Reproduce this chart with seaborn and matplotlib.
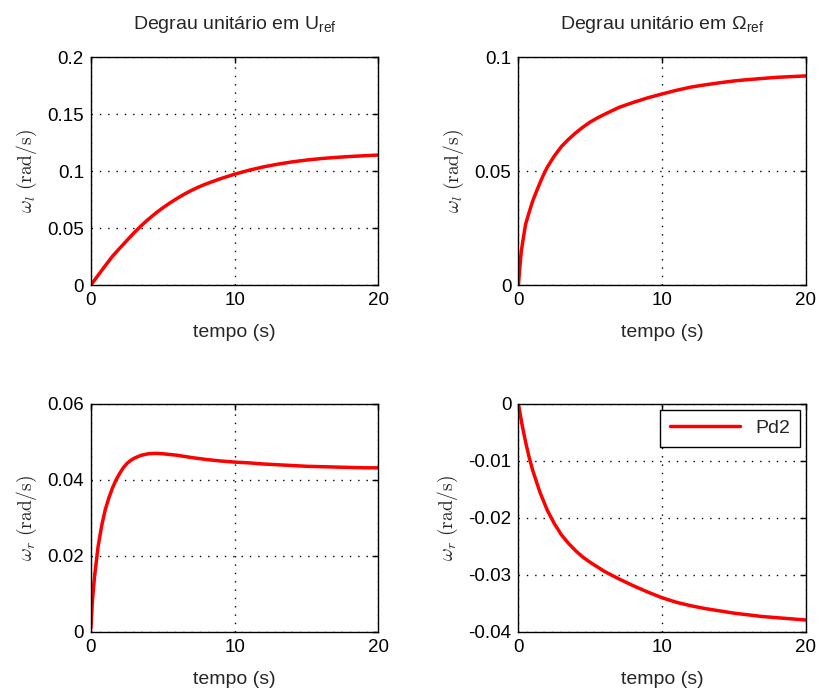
import numpy as np
import pandas as pd
import matplotlib
matplotlib.use('Agg')
import matplotlib.pyplot as plt
from matplotlib.ticker import FuncFormatter, MultipleLocator
import seaborn as sns

# Values
t_ul = [0, 0.5, 1, 1.5, 2, 2.5, 3, 3.5, 4, 4.5, 5, 5.5, 6, 6.5, 7, 7.5, 8, 9,
        10, 11, 12, 13, 14, 15, 16, 17, 18, 19, 20]
wl_ul = [0, 0.0085, 0.0170, 0.0252, 0.0322, 0.0390, 0.0458, 0.0520, 0.0577,
         0.0629, 0.0677, 0.0720, 0.0760, 0.0797, 0.0830, 0.0860, 0.0886, 0.0932,
         0.0972, 0.1007, 0.1036, 0.1060, 0.1080, 0.1096, 0.1109, 0.1119, 0.1127,
         0.1134, 0.1140]

t_om = [0, 0.1, 0.2, 0.3, 0.5, 0.75, 1, 1.25, 1.5, 1.75, 2, 2.5, 3, 3.5, 4, 4.5,
        5, 5.5, 6, 7, 8, 9, 10, 11, 12, 13, 14, 15, 16, 17, 18, 19, 20]
wl_om = [0, 0.0080, 0.0148, 0.0190, 0.0267, 0.0320, 0.0370, 0.0410, 0.0448,
         0.0484, 0.0516, 0.0566, 0.0608, 0.0640, 0.0668, 0.0693, 0.0715, 0.0733,
         0.0749, 0.0779, 0.0801, 0.0821, 0.0838, 0.0854, 0.0868, 0.0878, 0.0887,
         0.0895, 0.0901, 0.0906, 0.0911, 0.0914, 0.0917]

t_ur = [0, 0.1, 0.25, 0.5, 0.75, 1, 1.25, 1.5, 1.75, 2, 2.25, 2.5, 2.75, 3, 3.5,
        4, 4.5, 5, 6, 7, 8, 9, 10, 11, 12, 13, 14, 15, 16, 17, 18, 19, 20]
wr_ur = [0.0010, 0.0080, 0.0145, 0.0225, 0.0280, 0.0322, 0.0353, 0.0379, 0.0400,
         0.0417, 0.0432, 0.0443, 0.0451, 0.0457, 0.0465, 0.0469, 0.0470, 0.0469,
         0.0465, 0.0459, 0.0454, 0.0450, 0.0447, 0.0445, 0.0442, 0.0440, 0.0438,
         0.0436, 0.0435, 0.0434, 0.0433, 0.0432, 0.0432]

t_or = [0, 0.25, 0.5, 0.75, 1, 1.5, 2, 2.5, 3, 3.5, 4, 4.5, 5, 5.5, 6, 7, 8, 9,
        10, 11, 12, 13, 14, 15, 16, 17, 18, 19, 20]
wr_or = [0, -0.0036, -0.0067, -0.0094, -0.0117, -0.0155, -0.0186, -0.0210,
         -0.0230, -0.0245, -0.0258, -0.0269, -0.0278, -0.0286, -0.0294, -0.0307,
         -0.0319, -0.0330, -0.0340, -0.0348, -0.0354, -0.0359, -0.0363, -0.0367,
         -0.0370, -0.0373, -0.0375, -0.0377, -0.0379]

series_name = 'Pd2'
titles = ['Degrau unitário em U$_{\\rm ref}$', 'Degrau unitário em Ω$_{\\rm ref}$']
ylabels = [r'$\omega_l\ \mathrm{(rad/s)}$', r'$\omega_r\ \mathrm{(rad/s)}$']
xlabel = 'tempo (s)'

sns.set_style('white')
plt.rcParams['font.family'] = ['Liberation Sans', 'DejaVu Sans']
plt.rcParams['mathtext.fontset'] = 'custom'
plt.rcParams['mathtext.rm'] = 'Liberation Sans'
plt.rcParams['mathtext.it'] = 'Liberation Sans:italic'

fig = plt.figure(figsize=(8.19, 6.96), dpi=100)
positions = [
    [0.111, 0.5905, 0.351, 0.3276],
    [0.633, 0.5905, 0.351, 0.3276],
    [0.111, 0.092, 0.351, 0.3276],
    [0.633, 0.092, 0.351, 0.3276],
]
panels = [
    (t_ul, wl_ul, (0, 0.2), 0.05, titles[0], ylabels[0]),
    (t_om, wl_om, (0, 0.1), 0.05, titles[1], ylabels[0]),
    (t_ur, wr_ur, (0, 0.06), 0.02, None, ylabels[1]),
    (t_or, wr_or, (-0.04, 0), 0.01, None, ylabels[1]),
]

fmt = FuncFormatter(lambda v, p: f'{v:g}'.replace('\u2212', '-'))

for i, (pos, (t, w, ylim, ystep, title, ylab)) in enumerate(zip(positions, panels)):
    ax = fig.add_axes(pos)
    df = pd.DataFrame({'t': t, 'w': w})
    sns.lineplot(data=df, x='t', y='w', ax=ax, color='#ff0000', linewidth=2.5,
                 label=series_name if i == 3 else None, legend=(i == 3))
    ax.set_xlim(0, 20)
    ax.set_ylim(*ylim)
    ax.xaxis.set_major_locator(MultipleLocator(10))
    ax.yaxis.set_major_locator(MultipleLocator(ystep))
    ax.xaxis.set_major_formatter(fmt)
    ax.yaxis.set_major_formatter(fmt)
    ax.grid(True, linestyle=(0, (1, 5)), color='black', linewidth=1)
    ax.tick_params(direction='in', top=True, right=True, length=4,
                   labelsize=13.5, colors='black', width=1, pad=5)
    for sp in ax.spines.values():
        sp.set_color('black')
        sp.set_linewidth(1)
    ax.set_xlabel(xlabel, fontsize=14, labelpad=11)
    ax.set_ylabel(ylab, fontsize=14, math_fontfamily='cm', labelpad=6)
    if title:
        ax.set_title(title, fontsize=14, pad=20)
    if i == 3:
        leg = ax.legend(loc='upper right', fontsize=14, fancybox=False,
                        edgecolor='black', framealpha=1, handlelength=3.6,
                        borderaxespad=0.3, borderpad=0.5)
        leg.get_frame().set_linewidth(1)

fig.savefig('out.png', dpi=100)
